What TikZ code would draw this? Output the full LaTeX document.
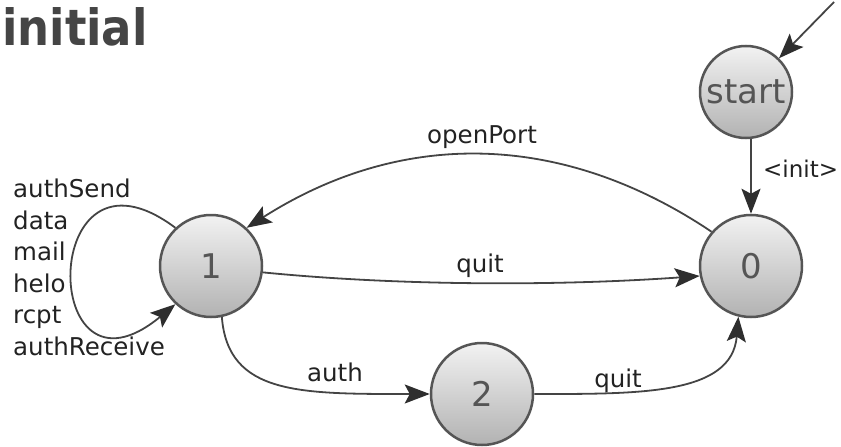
\documentclass[tikz,border=0pt]{standalone}
\usepackage{fontspec}
\setmainfont{DejaVu Sans}
\newfontfamily\titlefont{DejaVu Sans Condensed Bold}
\usetikzlibrary{arrows.meta}
\definecolor{ink}{HTML}{444444}
\definecolor{tipfill}{HTML}{2E2E2E}
\definecolor{rim}{HTML}{555555}
\definecolor{numgray}{HTML}{555555}
\definecolor{txt}{HTML}{222222}
\definecolor{heading}{HTML}{454545}
\definecolor{shadetop}{HTML}{F2F2F2}
\definecolor{shadebot}{HTML}{B2B2B2}
\begin{document}
\begin{tikzpicture}[x=1pt,y=-1pt,
  state/.style={circle, minimum size=102pt, inner sep=0pt, draw=rim,
    line width=2.5pt, top color=shadetop, bottom color=shadebot,
    text=numgray, font=\fontsize{34}{40}\selectfont},
  trans/.style={draw=ink, line width=1.8pt,
    -{Stealth[length=25pt,width=19pt,inset=5pt,color=tipfill]}},
  lbl/.style={font=\fontsize{24.5}{31.5}\selectfont, text=txt, inner sep=0pt}]
\useasboundingbox (0,0) rectangle (841,447);

% heading
\node[anchor=base west, inner sep=0pt, text=heading,
  font=\titlefont\fontsize{50}{58}\selectfont] (title) at (2,45) {initial};

% states
\node[state, minimum size=92pt] (start) at (746,92) {start};
\node[state] (zero) at (751,266) {0};
\node[state] (one) at (211,266) {1};
\node[state] (two) at (482,394) {2};

% initial arrow
\coordinate (entry) at (834,2);
\draw[trans] (entry) -- (start);

% transitions
\draw[trans] (start.south -| zero.north) -- (zero.north);
\draw[trans] (zero.139) .. controls (560,130) and (400,130) .. (one.47);
\draw[trans] (one.-7) .. controls (400,286) and (560,286) .. (zero.191);
\draw[trans] (one.-78) .. controls (228,395) and (300,394) .. (two.west);
\draw[trans] (two.east) .. controls (640,394) and (732,395) .. (zero.256);
\draw[trans] (one.133) .. controls (38,125) and (38,418) .. (one.227);

% labels
\node[lbl, anchor=base west, font=\fontsize{23}{28}\selectfont] (linit)
  at (763,177) {<init>};
\node[lbl, anchor=base] (lopen) at (482,143) {openPort};
\node[lbl, anchor=base] (lquitA) at (480,272) {quit};
\node[lbl, anchor=base] (lauth) at (335,381) {auth};
\node[lbl, anchor=base] (lquitB) at (618,387) {quit};
\node[lbl, anchor=north west, align=left] (lloop) at (13,179)
  {authSend\\data\\mail\\helo\\rcpt\\authReceive};
\end{tikzpicture}
\end{document}
